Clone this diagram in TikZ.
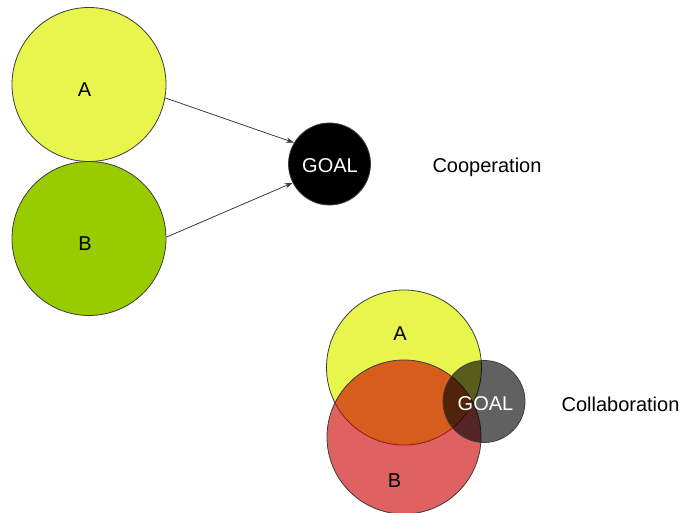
\documentclass[tikz,border=0pt]{standalone}
\usepackage{fontspec}
\setmainfont{Liberation Sans}
\usetikzlibrary{arrows.meta}
\definecolor{paleyellow}{RGB}{232,245,76}
\definecolor{leafgreen}{RGB}{153,204,0}
\definecolor{deepred}{RGB}{204,0,0}
\definecolor{rimgray}{RGB}{60,60,60}
\tikzset{
  disc/.style={circle, draw=rimgray, line width=0.8pt, inner sep=0pt},
  lbl/.style={inner sep=0pt, text height=14.3pt, text depth=0pt, font=\fontsize{20}{24}\selectfont},
  link/.style={draw=rimgray, line width=0.8pt, -{Stealth[length=8pt,width=5.5pt]}},
}
\begin{document}
\begin{tikzpicture}[x=1pt,y=1pt]
\useasboundingbox (0,0) rectangle (682,513);
% upper part: two separate partners aiming at a shared goal
\node[disc, fill=paleyellow, minimum size=154pt] (a) at (89,428.5) {};
\node[disc, fill=leafgreen, minimum size=154pt] (b) at (89,274.5) {};
\node[disc, fill=black, minimum size=82pt] (goal) at (329.5,349) {};
\node[lbl] (alabel) at (84.5,424) {A};
\node[lbl] (blabel) at (85,270) {B};
\node[lbl, text=white] (goallabel) at (330,347.5) {GOAL};
\node[lbl] (coop) at (487,348) {Cooperation};
\draw[link] (a.-10) -- (goal.149);
\draw[link] (b.1) -- (goal.207);
% lower part: overlapping partners sharing the goal
\node[disc, fill=paleyellow, minimum size=155pt] (a2) at (404,145.5) {};
\node[disc, fill=deepred, fill opacity=0.62, minimum size=154pt] (b2) at (404,76) {};
\node[disc, fill=black, fill opacity=0.62, minimum size=82pt] (goal2) at (484,111.5) {};
\node[lbl] (a2label) at (400,179.5) {A};
\node[lbl] (b2label) at (394.5,33) {B};
\node[lbl, text=white] (goal2label) at (485.5,109.5) {GOAL};
\node[lbl] (collab) at (620.5,109) {Collaboration};
\end{tikzpicture}
\end{document}
